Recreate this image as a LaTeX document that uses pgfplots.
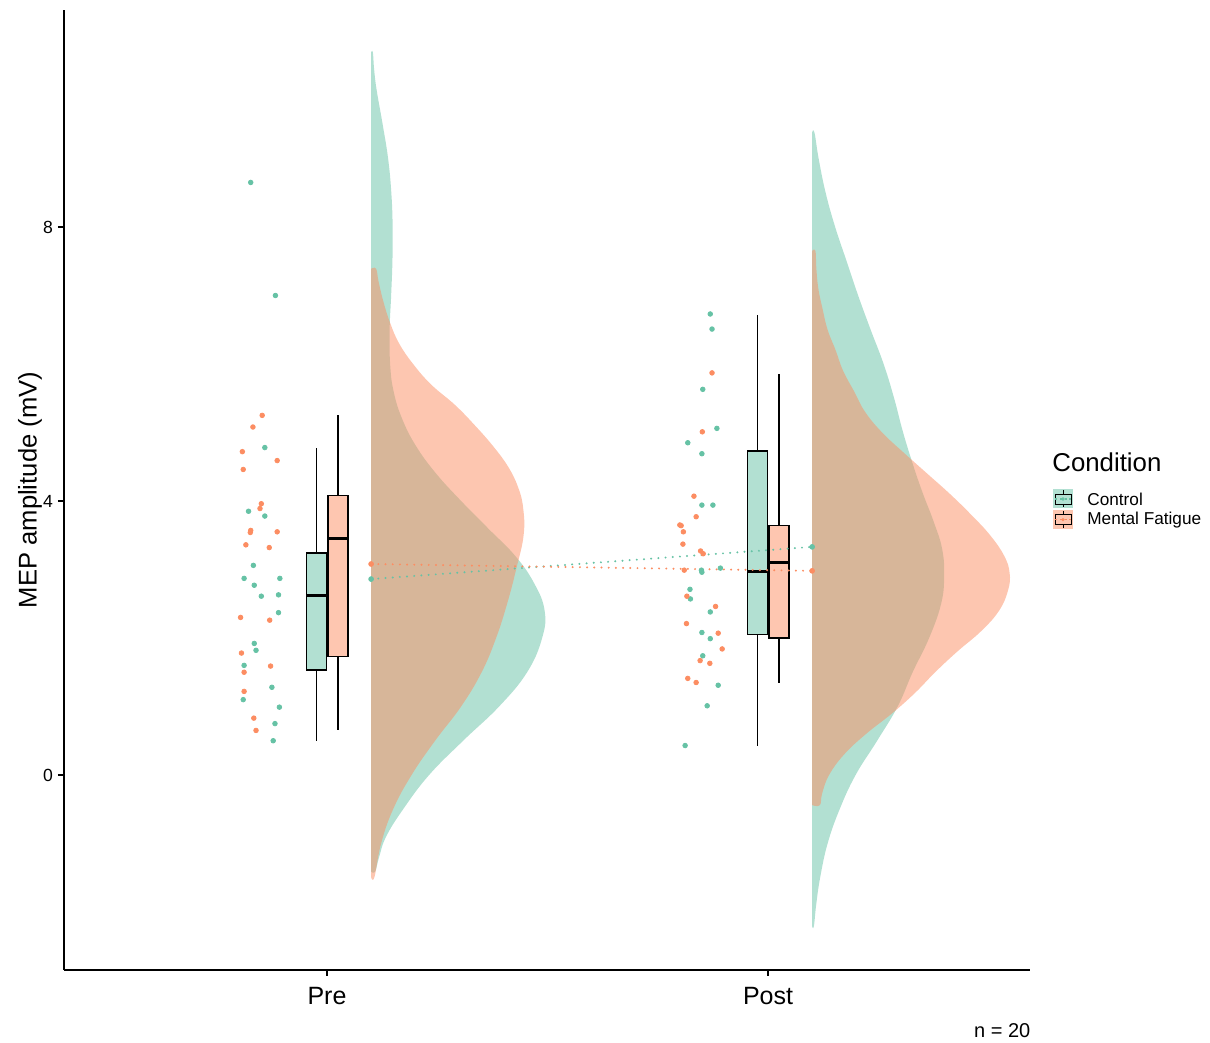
\documentclass[border=0pt]{standalone}
\usepackage{fontspec}
\setmainfont{Liberation Sans}
\usepackage{pgfplots}
\pgfplotsset{compat=1.18}
\usepgfplotslibrary{statistics}
\definecolor{cctrl}{HTML}{66C2A5}
\definecolor{cmf}{HTML}{FC8D62}
\begin{document}
\begin{tikzpicture}
\begin{axis}[
  at={(32pt,36.5pt)}, anchor=south west,
  width=483pt, height=480pt, scale only axis,
  xmin=0.4036, xmax=2.594, ymin=-2.847, ymax=11.168,
  axis x line*=bottom, axis y line*=left,
  xtick pos=bottom, ytick pos=left,
  axis line style={line width=0.6pt, black},
  xtick={1,2}, xticklabels={Pre,Post}, ytick={0,4,8},
  tick align=outside, major tick length=3pt,
  tick style={line width=0.6pt, black},
  /pgf/number format/assume math mode=true,
  xticklabel style={font=\fontsize{12.5}{14}\selectfont, yshift=-2pt},
  yticklabel style={font=\fontsize{8.8}{10}\selectfont, xshift=1pt},
  ylabel={MEP amplitude (mV)},
  ylabel style={font=\fontsize{12.8}{14}\selectfont, at={(axis description cs:-0.0283,0.5)}, anchor=base},
  boxplot/draw direction=y,
]
% ---- half violins ----
\addplot[draw=none, fill=cctrl, fill opacity=0.5, smooth, tension=0.7, forget plot] coordinates {
(1.1,-1.41) (1.1091,-1.41) (1.1181,-1.2) (1.1340,-0.9) (1.1726,-0.5) (1.2315,0.0) (1.3086,0.5) (1.3902,1.0) (1.4537,1.5) (1.4878,2.0) (1.4934,2.4) (1.4696,2.8) (1.4265,3.2) (1.3653,3.6) (1.3041,4.0) (1.2474,4.4) (1.2020,4.8) (1.1703,5.2) (1.1510,5.6) (1.1431,6.0) (1.1420,6.5) (1.1454,7.0) (1.1483,7.5) (1.1488,8.0) (1.1458,8.5) (1.1385,9.0) (1.1261,9.5) (1.1125,10.0) (1.1068,10.3) (1.1039,10.55) (1.1,10.55)};
\addplot[draw=none, fill=cmf, fill opacity=0.5, smooth, tension=0.7, forget plot] coordinates {
(1.1,-1.49) (1.1075,-1.49) (1.1227,-1.0) (1.1499,-0.5) (1.1918,0.0) (1.2451,0.5) (1.3041,1.0) (1.3506,1.5) (1.3834,2.0) (1.4084,2.5) (1.4288,3.0) (1.4458,3.5) (1.4447,3.9) (1.4333,4.2) (1.4107,4.5) (1.3766,4.8) (1.3358,5.1) (1.2905,5.4) (1.2361,5.7) (1.1952,6.0) (1.1635,6.3) (1.1431,6.6) (1.1283,6.9) (1.1170,7.2) (1.1113,7.39) (1.1,7.39)};
\addplot[draw=none, fill=cctrl, fill opacity=0.5, smooth, tension=0.7, forget plot] coordinates {
(2.1,-2.21) (2.1039,-2.21) (2.1091,-1.9) (2.1181,-1.5) (2.1351,-1.0) (2.1624,-0.5) (2.1986,0.0) (2.2474,0.5) (2.2939,1.0) (2.3279,1.5) (2.3653,2.0) (2.3925,2.5) (2.3993,2.9) (2.3948,3.3) (2.3755,3.7) (2.3517,4.1) (2.3302,4.5) (2.3063,5.0) (2.2859,5.5) (2.2621,6.0) (2.2327,6.5) (2.2043,7.0) (2.1782,7.5) (2.1522,8.0) (2.1306,8.5) (2.1147,9.0) (2.1052,9.38) (2.1,9.38)};
\addplot[draw=none, fill=cmf, fill opacity=0.5, smooth, tension=0.7, forget plot] coordinates {
(2.1,-0.44) (2.1175,-0.44) (2.1227,-0.27) (2.1385,0.0) (2.1726,0.3) (2.2224,0.6) (2.2814,0.9) (2.3336,1.2) (2.3789,1.5) (2.4288,1.8) (2.4832,2.1) (2.5240,2.4) (2.5444,2.7) (2.5478,2.95) (2.5354,3.2) (2.5036,3.5) (2.4605,3.8) (2.4129,4.1) (2.3608,4.4) (2.3086,4.7) (2.2587,5.0) (2.2202,5.3) (2.1952,5.6) (2.1703,5.9) (2.1533,6.2) (2.1351,6.5) (2.1238,6.8) (2.1141,7.1) (2.1095,7.4) (2.1075,7.65) (2.1,7.65)};
% ---- jittered points ----
\addplot[only marks, mark=*, mark size=1.15pt, cctrl, forget plot] coordinates {
(0.827,8.65) (0.883,7.00) (0.859,4.78) (0.822,3.85) (0.859,3.78) (0.833,3.06) (0.812,2.87) (0.893,2.87) (0.835,2.77) (0.851,2.61) (0.890,2.63) (0.890,2.37) (0.835,1.92) (0.839,1.82) (0.812,1.60) (0.875,1.28) (0.810,1.10) (0.892,0.99) (0.882,0.75) (0.878,0.50)};
\addplot[only marks, mark=*, mark size=1.15pt, cmf, forget plot] coordinates {
(0.853,5.25) (0.832,5.08) (0.808,4.72) (0.887,4.59) (0.810,4.46) (0.851,3.96) (0.848,3.89) (0.827,3.57) (0.826,3.54) (0.887,3.55) (0.816,3.36) (0.869,3.32) (0.804,2.30) (0.870,2.26) (0.806,1.78) (0.872,1.59) (0.812,1.50) (0.812,1.22) (0.834,0.83) (0.839,0.65)};
\addplot[only marks, mark=*, mark size=1.15pt, cctrl, forget plot] coordinates {
(1.869,6.73) (1.873,6.51) (1.852,5.63) (1.884,5.06) (1.818,4.85) (1.850,4.69) (1.850,3.94) (1.875,3.94) (1.849,2.99) (1.850,2.96) (1.892,3.02) (1.823,2.71) (1.824,2.57) (1.869,2.38) (1.850,2.08) (1.869,1.99) (1.852,1.74) (1.887,1.31) (1.862,1.01) (1.812,0.43)};
\addplot[only marks, mark=*, mark size=1.15pt, cmf, forget plot] coordinates {
(1.873,5.87) (1.851,5.01) (1.832,4.07) (1.837,3.77) (1.800,3.65) (1.803,3.64) (1.808,3.55) (1.807,3.37) (1.847,3.27) (1.853,3.23) (1.810,2.99) (1.816,2.61) (1.881,2.46) (1.815,2.21) (1.887,2.07) (1.896,1.84) (1.846,1.67) (1.868,1.63) (1.818,1.41) (1.837,1.35)};
% ---- boxplots ----
\pgfplotsset{boxplot/every median/.style={line width=1.5pt}}
\addplot[boxplot prepared={lower whisker=0.50, lower quartile=1.53, median=2.62, upper quartile=3.24, upper whisker=4.77, draw position=0.976, box extend=0.045, whisker extend=0}, draw=black, fill=cctrl!50, line width=0.75pt, forget plot] coordinates {};
\addplot[boxplot prepared={lower whisker=0.65, lower quartile=1.73, median=3.45, upper quartile=4.08, upper whisker=5.25, draw position=1.025, box extend=0.045, whisker extend=0}, draw=black, fill=cmf!50, line width=0.75pt, forget plot] coordinates {};
\addplot[boxplot prepared={lower whisker=0.43, lower quartile=2.05, median=2.97, upper quartile=4.73, upper whisker=6.72, draw position=1.976, box extend=0.045, whisker extend=0}, draw=black, fill=cctrl!50, line width=0.75pt, forget plot] coordinates {};
\addplot[boxplot prepared={lower whisker=1.35, lower quartile=2.00, median=3.10, upper quartile=3.64, upper whisker=5.86, draw position=2.025, box extend=0.045, whisker extend=0}, draw=black, fill=cmf!50, line width=0.75pt, forget plot] coordinates {};
% ---- mean lines ----
\addplot[cctrl, line width=1.1pt, line cap=round, dash pattern=on 0pt off 3.6pt, forget plot] coordinates {(1.1,2.86) (2.1,3.33)};
\addplot[cmf, line width=1.1pt, line cap=round, dash pattern=on 0pt off 3.6pt, forget plot] coordinates {(1.1,3.08) (2.1,2.98)};
\addplot[only marks, mark=*, mark size=1.2pt, cctrl, forget plot] coordinates {(1.1,2.86) (2.1,3.33)};
\addplot[only marks, mark=*, mark size=1.2pt, cmf, forget plot] coordinates {(1.1,3.08) (2.1,2.98)};
\end{axis}
% ---- legend and caption (pixel-based frame) ----
\begin{scope}[shift={(0,521.5pt)}, x=0.5pt, y=-0.5pt]
  \node[anchor=base west, inner sep=0pt, font=\fontsize{12.9}{14}\selectfont] at (1052,471.7) {Condition};
  \foreach \c/\yc/\t in {cctrl/499/Control, cmf/519.6/Mental Fatigue}{
    \fill[\c, fill opacity=0.5] (1053,\yc-9.5) rectangle (1073,\yc+9.5);
    \draw[black, line width=0.45pt, fill=\c!50] (1055,\yc-5) rectangle (1071,\yc+5);
    \draw[\c, line width=0.8pt, dash pattern=on 1.2pt off 1.2pt] (1055,\yc) -- (1071,\yc);
    \draw[black, line width=0.45pt] (1063,\yc-5) -- (1063,\yc-8.5) (1063,\yc+5) -- (1063,\yc+8.5);
    \fill[\c] (1063,\yc) circle (1.8);
    \node[anchor=west, inner sep=0pt, font=\fontsize{8.6}{10}\selectfont] at (1087,\yc) {\t};
  }
  \node[anchor=base east, inner sep=0pt, font=\fontsize{10}{12}\selectfont] at (1030.7,1038) {n = 20};
\end{scope}
\pgfresetboundingbox
\useasboundingbox (0,0) rectangle (605pt,521.5pt);
\end{tikzpicture}
\end{document}
